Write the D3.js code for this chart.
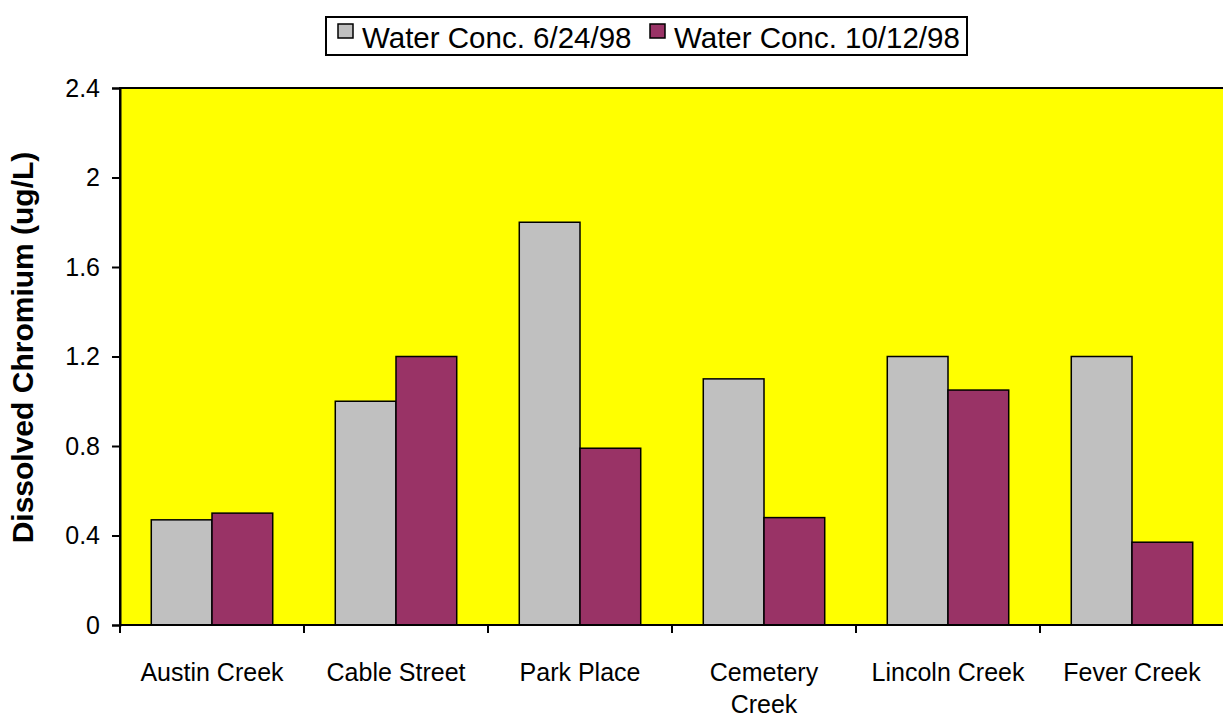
<!DOCTYPE html>
<html>
<head>
<meta charset="utf-8">
<script src="https://cdn.jsdelivr.net/npm/d3@7"></script>
<style>
  html, body { margin: 0; padding: 0; background: #fff; }
  svg { display: block; font-family: "Liberation Sans", Arial, sans-serif; }
</style>
</head>
<body>
<svg id="chart" width="1223" height="719"></svg>
<script>
// Sites sampled and dissolved chromium (ug/L) on each date
const sites = ["Austin Creek", "Cable Street", "Park Place", "Cemetery Creek", "Lincoln Creek", "Fever Creek"];
const seriesNames = ["Water Conc. 6/24/98", "Water Conc. 10/12/98"];
const june = [0.47, 1.0, 1.8, 1.1, 1.2, 1.2];
const october = [0.5, 1.2, 0.79, 0.48, 1.05, 0.37];
const yTicks = [0, 0.4, 0.8, 1.2, 1.6, 2, 2.4];
const colors = ["#C0C0C0", "#993366"];

(function draw() {
  const svg = d3.select("#chart");
  const plotLeft = 120, plotRight = 1224, plotTop = 88, plotBottom = 625;
  const font = "Liberation Sans, Arial, sans-serif";

  const x = d3.scaleBand().domain(sites).range([plotLeft, plotRight]).paddingInner(0.34).paddingOuter(0.17);
  const x1 = d3.scaleBand().domain([0, 1]).range([0, x.bandwidth()]);
  const y = d3.scaleLinear().domain([0, 2.4]).range([plotBottom, plotTop]);

  // plot background
  svg.append("rect")
    .attr("x", plotLeft).attr("y", plotTop)
    .attr("width", plotRight - plotLeft).attr("height", plotBottom - plotTop)
    .attr("fill", "#FFFF00").attr("stroke", "#000").attr("stroke-width", 2);

  // bars
  const rows = sites.map((s, i) => ({ site: s, vals: [june[i], october[i]] }));
  const groups = svg.append("g").selectAll("g").data(rows).join("g")
    .attr("transform", d => `translate(${x(d.site)},0)`);
  groups.selectAll("rect").data(d => d.vals.map((v, k) => ({ v, k }))).join("rect")
    .attr("x", d => x1(d.k))
    .attr("y", d => y(d.v))
    .attr("width", x1.bandwidth())
    .attr("height", d => plotBottom - y(d.v))
    .attr("fill", d => colors[d.k])
    .attr("stroke", "#000").attr("stroke-width", 1.5);

  // y axis
  const yAxis = d3.axisLeft(y).tickValues(yTicks).tickSize(8).tickPadding(12)
    .tickFormat(d => d3.format("")(d));
  const ya = svg.append("g").attr("transform", `translate(${plotLeft},0)`).call(yAxis)
    .attr("font-family", font).attr("font-size", 25);
  ya.select(".domain").attr("stroke-width", 2);
  ya.selectAll(".tick line").attr("stroke-width", 2);
  ya.selectAll(".tick text").attr("fill", "#000");

  // x axis: ticks sit on the category boundaries
  const xa = svg.append("g").attr("transform", `translate(0,${plotBottom})`);
  xa.append("line").attr("x1", plotLeft).attr("x2", plotRight).attr("stroke", "#000").attr("stroke-width", 2);
  const step = x.step();
  const bounds = d3.range(sites.length + 1).map(i => x(sites[0]) - x.paddingOuter() * step + i * step);
  xa.selectAll("line.tk").data(bounds).join("line").attr("class", "tk")
    .attr("x1", d => d).attr("x2", d => d).attr("y1", 0).attr("y2", 8)
    .attr("stroke", "#000").attr("stroke-width", 2);

  // category labels (wrap long names onto two lines)
  const labelLines = s => s === "Cemetery Creek" ? ["Cemetery", "Creek"] : [s];
  const lab = xa.selectAll("text").data(sites).join("text")
    .attr("text-anchor", "middle")
    .attr("font-size", 25).attr("fill", "#000")
    .attr("transform", d => `translate(${x(d) + x.bandwidth() / 2},56)`);
  lab.selectAll("tspan").data(d => labelLines(d)).join("tspan")
    .attr("x", 0).attr("dy", (d, i) => i === 0 ? 0 : 32).text(d => d);

  // y axis title
  svg.append("text")
    .attr("transform", `translate(33,${(plotTop + plotBottom) / 2 - 9}) rotate(-90)`)
    .attr("text-anchor", "middle")
    .attr("font-size", 30).attr("font-weight", "bold").attr("fill", "#000")
    .text("Dissolved Chromium (ug/L)");

  // legend
  const lg = svg.append("g");
  lg.append("rect").attr("x", 326).attr("y", 17).attr("width", 641).attr("height", 38)
    .attr("fill", "#fff").attr("stroke", "#000").attr("stroke-width", 2);
  const legendX = [338, 650];
  seriesNames.forEach((name, i) => {
    lg.append("rect").attr("x", legendX[i]).attr("y", 24).attr("width", 15).attr("height", 14)
      .attr("fill", colors[i]).attr("stroke", "#000").attr("stroke-width", 1.5);
    lg.append("text").attr("x", legendX[i] + 24).attr("y", 48)
      .attr("font-size", 29.5).attr("fill", "#000").text(name);
  });
})();
</script>
</body>
</html>
